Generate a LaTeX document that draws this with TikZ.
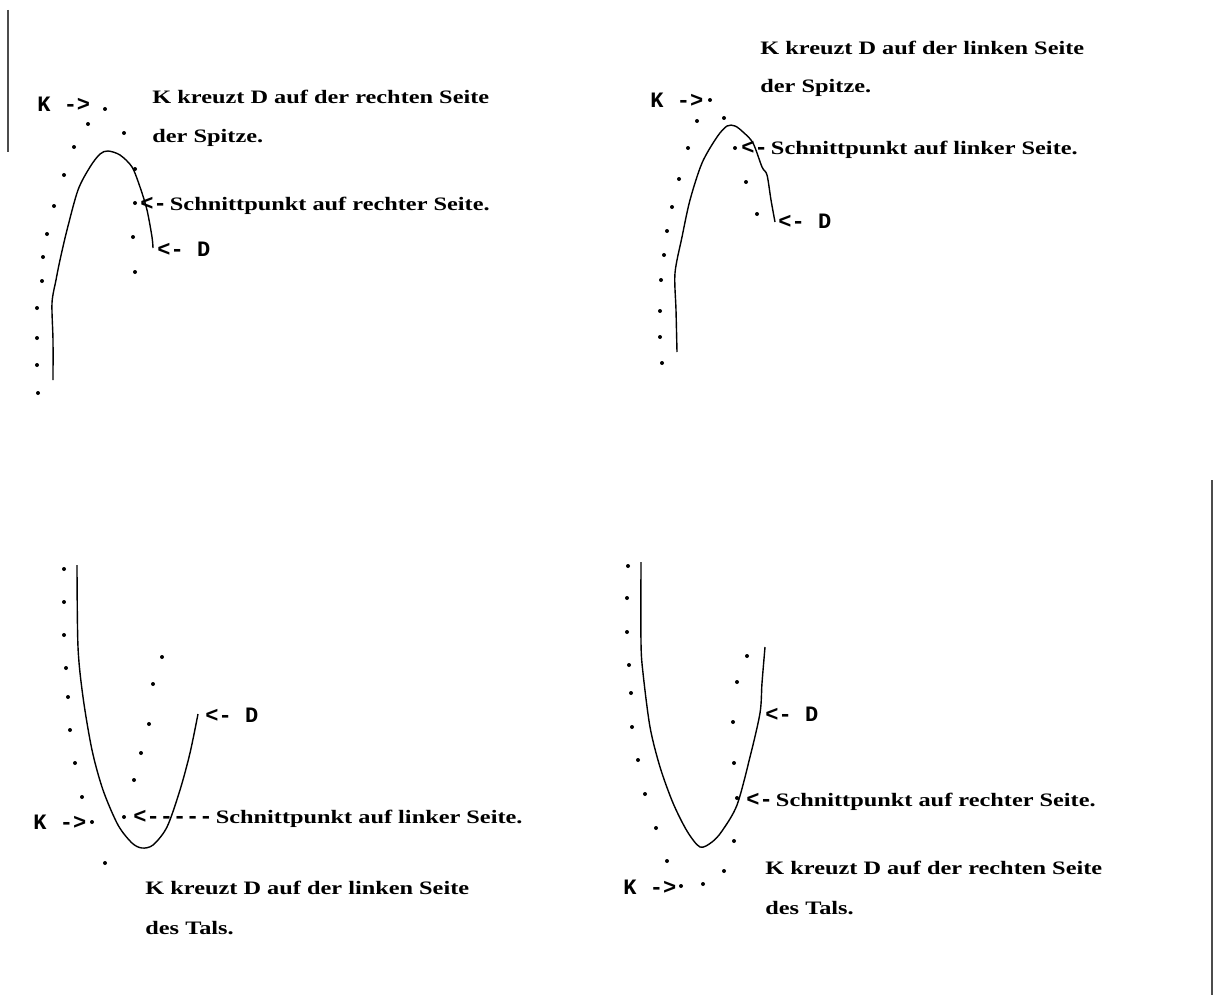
\documentclass[tikz,border=0pt]{standalone}
\usepackage{fontspec}
\setmainfont{Liberation Serif}
\newfontfamily\capfont[FakeStretch=1.28]{Liberation Serif Bold}
\newfontfamily\termfont[Ligatures=TeXOff]{Liberation Mono Bold}
\newcommand{\termtext}[1]{{\termfont\fontsize{11}{13}\selectfont #1}}
\pgfdeclarelayer{edgelayer}
\pgfdeclarelayer{nodelayer}
\pgfsetlayers{edgelayer,nodelayer,main}
\tikzstyle{dcurve}=[draw=black, line width=0.7pt]
\tikzstyle{kdot}=[fill=black]
\tikzstyle{caplabel}=[anchor=base west, inner sep=0pt, font=\capfont\fontsize{9.5}{11}\selectfont]
\tikzstyle{kmark}=[anchor=base west, inner sep=0pt, font=\termfont\fontsize{11}{13}\selectfont]
\tikzstyle{scanline}=[draw=black!70, line width=0.6pt]

\begin{document}
\begin{tikzpicture}[x=0.5pt,y=-0.5pt]
\useasboundingbox (0,0) rectangle (1214,995);
						\begin{pgfonlayer}{nodelayer}
							% Spitze, rechte Seite
							\node [style=kmark] (kA) at (37,112) {K ->};
							\node [style=caplabel] (tA1) at (152,104) {K kreuzt D auf der rechten Seite};
							\node [style=caplabel] (tA2) at (152,142) {der Spitze.};
							\node [style=caplabel] (sA) at (140,210) {\termtext{<-}\,Schnittpunkt auf rechter Seite.};
							\node [style=kmark] (dA) at (157,256) {<- D};
							% Spitze, linke Seite
							\node [style=kmark] (kB) at (650,107) {K ->};
							\node [style=caplabel] (tB1) at (760,55) {K kreuzt D auf der linken Seite};
							\node [style=caplabel] (tB2) at (760,93) {der Spitze.};
							\node [style=caplabel] (sB) at (741,155) {\termtext{<-}\,Schnittpunkt auf linker Seite.};
							\node [style=kmark] (dB) at (778,228) {<- D};
							% Tal, linke Seite
							\node [style=kmark] (kC) at (33,829) {K ->};
							\node [style=caplabel] (sC) at (133,823) {\termtext{<-----}\,Schnittpunkt auf linker Seite.};
							\node [style=kmark] (dC) at (205,722) {<- D};
							\node [style=caplabel] (tC1) at (145,894) {K kreuzt D auf der linken Seite};
							\node [style=caplabel] (tC2) at (145,934) {des Tals.};
							% Tal, rechte Seite
							\node [style=kmark] (kD) at (623,894) {K ->};
							\node [style=caplabel] (sD) at (746,806) {\termtext{<-}\,Schnittpunkt auf rechter Seite.};
							\node [style=kmark] (dD) at (765,721) {<- D};
							\node [style=caplabel] (tD1) at (765,874) {K kreuzt D auf der rechten Seite};
							\node [style=caplabel] (tD2) at (765,914) {des Tals.};
						\end{pgfonlayer}
						\begin{pgfonlayer}{edgelayer}
							% D
							\draw [style=dcurve] plot [smooth] coordinates {(53,380) (53,340) (52,303) (56,280) (60,260) (67,230) (78,190) (90,167) (100,154) (108,151) (120,155) (132,167) (140,187) (147,210) (152,237) (153,248)};
							\draw [style=dcurve] plot [smooth] coordinates {(677,352) (676,310) (675,273) (682,237) (690,200) (702,163) (717,137) (727,126) (735,126) (743,132) (753,143) (762,167) (767,175) (771,200) (775,222)};
							\draw [style=dcurve] plot [smooth] coordinates {(77,565) (78,647) (83,697) (92,750) (103,790) (118,825) (132,843) (142,848) (153,845) (167,827) (180,790) (190,753) (198,714)};
							\draw [style=dcurve] plot [smooth] coordinates {(641,562) (641,643) (643,673) (650,727) (660,767) (673,803) (687,831) (700,847) (712,842) (722,831) (737,805) (750,757) (760,713) (762,683) (765,647)};
							% K
							\foreach \p in {(105,109),(88,124),(124,133),(74,147),(64,175),(135,169),(54,206),(135,203),(47,234),(133,237),(43,257),(135,272),(42,281),(37,308),(37,338),(37,365),(38,393)}
								\fill [style=kdot] \p circle [radius=1pt];
							\foreach \p in {(710,100),(697,121),(724,118),(688,148),(735,148),(679,179),(746,182),(672,207),(757,214),(667,231),(664,255),(661,280),(660,311),(660,337),(662,363)}
								\fill [style=kdot] \p circle [radius=1pt];
							\foreach \p in {(64,569),(64,602),(64,635),(66,668),(68,697),(70,730),(75,763),(82,797),(92,822),(105,863),(162,657),(153,684),(149,724),(141,753),(134,780),(124,817)}
								\fill [style=kdot] \p circle [radius=1pt];
							\foreach \p in {(628,566),(627,598),(627,632),(629,665),(631,693),(632,727),(638,760),(645,794),(656,828),(667,861),(681,886),(703,884),(747,656),(737,682),(733,722),(734,763),(737,798),(734,841),(724,871)}
								\fill [style=kdot] \p circle [radius=1pt];
							% scan edges
							\draw [style=scanline] (8,10) -- (8,152);
							\draw [style=scanline] (1212,480) -- (1212,995);
						\end{pgfonlayer}
\end{tikzpicture}
\end{document}
